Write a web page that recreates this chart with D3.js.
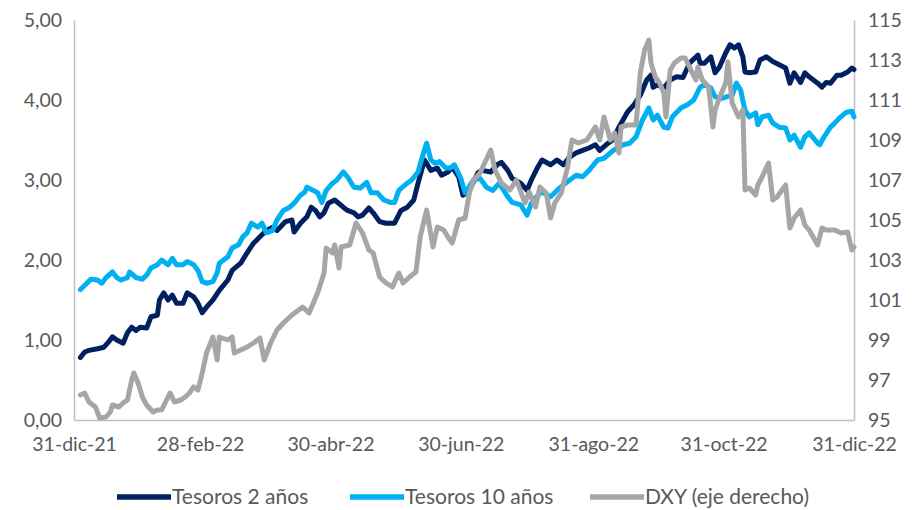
<!DOCTYPE html>
<html>
<head>
<meta charset="utf-8">
<script src="https://cdn.jsdelivr.net/npm/d3@7"></script>
<style>
  body { margin: 0; background: #fff; }
  svg text { font-family: Lato, "Open Sans", sans-serif; fill: #595959; }
</style>
</head>
<body>
<svg id="chart"></svg>
<script>
// dias desde 31-dic-21, valor
var tesoros2 = [[3,0.78],[5,0.85],[7,0.87],[11,0.89],[14,0.91],[16,0.97],[18,1.04],[20,1.0],[23,0.96],[25,1.09],
  [27,1.16],[29,1.12],[31,1.16],[34,1.15],[36,1.29],[39,1.31],[40,1.5],[42,1.59],[44,1.5],[46,1.56],
  [48,1.46],[51,1.46],[53,1.59],[56,1.54],[58,1.46],[60,1.34],[62,1.41],[65,1.5],[68,1.62],[72,1.75],
  [74,1.87],[78,1.96],[81,2.09],[84,2.21],[87,2.29],[90,2.37],[93,2.41],[95,2.37],[99,2.48],[102,2.5],
  [103,2.35],[106,2.46],[109,2.54],[111,2.66],[113,2.62],[115,2.54],[117,2.59],[119,2.71],[122,2.75],[126,2.66],
  [128,2.62],[131,2.59],[133,2.54],[135,2.56],[138,2.65],[140,2.59],[143,2.48],[146,2.46],[150,2.46],[153,2.62],
  [156,2.66],[159,2.75],[161,2.96],[164,3.25],[167,3.12],[170,3.15],[172,3.06],[175,3.1],[177,3.16],[180,3.04],
  [182,2.81],[185,2.87],[189,3.09],[191,3.12],[195,3.1],[198,3.19],[200,3.22],[203,3.12],[205,3.02],[209,2.96],
  [212,2.87],[214,3.0],[217,3.16],[219,3.25],[223,3.19],[226,3.25],[229,3.19],[232,3.29],[235,3.34],[238,3.37],
  [241,3.4],[244,3.44],[246,3.37],[249,3.44],[252,3.5],[255,3.66],[259,3.85],[262,3.94],[265,4.06],[268,4.25],
  [270,4.31],[271,4.16],[273,4.19],[276,4.15],[279,4.25],[282,4.29],[285,4.28],[288,4.46],[292,4.56],[293,4.46],
  [295,4.46],[298,4.54],[300,4.34],[302,4.41],[305,4.59],[307,4.69],[309,4.65],[311,4.69],[313,4.54],[314,4.35],
  [316,4.34],[319,4.35],[321,4.5],[324,4.54],[327,4.48],[330,4.44],[333,4.4],[335,4.21],[337,4.34],[340,4.22],
  [342,4.34],[344,4.29],[348,4.21],[350,4.16],[352,4.22],[354,4.21],[357,4.31],[359,4.31],[362,4.35],[364,4.4],[365,4.38]];

var tesoros10 = [[3,1.63],[6,1.71],[8,1.76],[11,1.75],[13,1.71],[15,1.78],[18,1.85],[20,1.78],[22,1.75],[25,1.78],
  [26,1.85],[29,1.78],[32,1.76],[34,1.81],[36,1.9],[39,1.94],[41,2.0],[44,1.94],[46,2.02],[48,1.94],
  [51,1.94],[53,1.98],[56,1.94],[58,1.87],[60,1.73],[62,1.71],[65,1.73],[67,1.84],[68,1.96],[72,2.04],
  [74,2.15],[77,2.19],[79,2.29],[81,2.34],[83,2.46],[86,2.41],[88,2.46],[90,2.34],[93,2.37],[95,2.5],
  [98,2.62],[101,2.66],[103,2.71],[106,2.81],[108,2.85],[109,2.91],[112,2.87],[114,2.84],[116,2.72],[118,2.87],
  [121,2.96],[123,3.0],[126,3.1],[128,3.04],[131,2.91],[134,2.9],[137,2.97],[139,2.84],[142,2.84],[145,2.75],
  [148,2.72],[150,2.72],[152,2.87],[155,2.94],[158,3.0],[161,3.1],[163,3.29],[165,3.46],[167,3.25],[169,3.21],
  [171,3.23],[174,3.15],[176,3.15],[178,3.19],[181,3.02],[183,2.84],[187,3.0],[190,3.02],[193,2.91],[196,2.87],
  [199,2.96],[203,2.79],[205,2.72],[209,2.69],[212,2.56],[214,2.71],[217,2.81],[219,2.85],[223,2.79],[226,2.87],
  [229,2.94],[232,3.0],[235,3.06],[238,3.04],[241,3.12],[245,3.25],[248,3.27],[251,3.34],[254,3.4],[257,3.44],
  [260,3.46],[263,3.54],[266,3.75],[269,3.9],[271,3.75],[273,3.81],[276,3.66],[278,3.65],[280,3.79],[284,3.9],
  [287,3.94],[290,4.0],[293,4.16],[295,4.19],[298,4.15],[300,4.04],[303,4.02],[308,4.06],[310,4.21],[312,4.12],
  [314,3.87],[316,3.79],[319,3.84],[320,3.69],[322,3.79],[325,3.81],[327,3.71],[330,3.66],[333,3.65],[335,3.5],
  [337,3.56],[340,3.41],[342,3.54],[344,3.59],[348,3.46],[349,3.44],[351,3.54],[354,3.66],[356,3.71],[358,3.77],
  [361,3.84],[362,3.85],[364,3.86],[365,3.79]];

var dxy = [[3,96.25],[5,96.35],[7,95.9],[10,95.65],[12,95.1],[15,95.15],[17,95.4],[18,95.75],[21,95.65],[23,95.85],
  [25,96.0],[27,97.0],[28,97.35],[30,96.85],[32,96.15],[34,95.75],[37,95.4],[39,95.5],[41,95.5],[44,96.15],
  [45,96.35],[47,95.9],[50,96.0],[52,96.15],[54,96.35],[56,96.65],[58,96.5],[60,97.35],[62,98.35],[65,99.15],
  [67,98.0],[68,99.15],[72,99.0],[74,99.15],[75,98.35],[78,98.5],[81,98.65],[84,98.85],[87,99.1],[89,98.0],
  [92,98.85],[95,99.5],[98,99.85],[102,100.25],[107,100.65],[110,100.35],[114,101.35],[117,102.35],[118,103.6],[121,103.35],
  [122,103.75],[124,102.6],[125,103.65],[129,103.75],[132,104.85],[135,104.35],[138,103.5],[140,103.35],[143,102.15],[146,101.85],
  [149,101.65],[152,102.35],[154,101.85],[157,102.15],[160,102.4],[162,104.15],[165,105.5],[168,103.65],[170,104.65],[173,104.5],
  [175,104.15],[177,103.85],[180,105.0],[183,105.1],[185,106.35],[187,107.0],[190,107.35],[195,108.5],[197,107.5],[200,106.85],
  [204,106.5],[207,107.0],[211,105.85],[213,106.4],[216,105.65],[218,106.65],[221,106.35],[223,105.1],[225,105.85],[228,106.35],
  [231,107.65],[233,109.0],[236,108.85],[240,109.0],[243,109.5],[244,109.65],[246,109.0],[248,110.15],[251,109.0],[253,109.35],
  [255,108.35],[256,109.65],[259,109.75],[263,109.75],[265,112.35],[267,113.5],[269,114.0],[270,112.85],[272,112.15],[274,111.85],
  [276,111.35],[277,110.15],[279,112.5],[281,112.85],[284,113.1],[286,113.1],[288,112.65],[291,112.0],[292,112.65],[294,112.0],
  [297,111.65],[299,109.65],[300,110.5],[302,111.1],[305,111.85],[306,112.9],[308,110.85],[311,110.15],[313,110.5],[314,106.5],
  [316,106.6],[319,106.25],[320,106.75],[322,107.15],[325,107.85],[327,106.0],[329,106.15],[333,106.75],[335,104.6],[337,105.1],
  [340,105.5],[342,104.75],[344,104.5],[348,103.75],[350,104.6],[352,104.5],[356,104.5],[359,104.35],[362,104.4],[364,103.5],[365,103.65]];

var tickFechas = ["2021-12-31", "2022-02-28", "2022-04-30", "2022-06-30", "2022-08-31", "2022-10-31", "2022-12-31"];
var tickLabels = ["31-dic-21", "28-feb-22", "30-abr-22", "30-jun-22", "31-ago-22", "31-oct-22", "31-dic-22"];
var leftTicks = [0, 1, 2, 3, 4, 5];
var rightTicks = [95, 97, 99, 101, 103, 105, 107, 109, 111, 113, 115];
var seriesNames = ["Tesoros 2 años", "Tesoros 10 años", "DXY (eje derecho)"];
var colors = ["#002060", "#00b0f0", "#a6a6a6"];

var svgWidth = 912, svgHeight = 510;
var margin = { top: 20, right: 58, bottom: 90, left: 74 };
var width = svgWidth - margin.left - margin.right;
var height = svgHeight - margin.top - margin.bottom;

var svg = d3.select("#chart")
  .attr("width", svgWidth)
  .attr("height", svgHeight);

var g = svg.append("g")
  .attr("transform", "translate(" + margin.left + "," + margin.top + ")");

var parse = d3.timeParse("%Y-%m-%d");
var start = parse("2021-12-31");
var toDate = function (d) { return d3.timeDay.offset(start, d); };

var x = d3.scaleTime().domain([start, parse("2022-12-31")]).range([0, width]);
var yL = d3.scaleLinear().domain([0, 5]).range([height, 0]);
var yR = d3.scaleLinear().domain([95, 115]).range([height, 0]);

var es = d3.formatLocale({ decimal: ",", thousands: ".", grouping: [3], currency: ["", "€"] });

// ejes
var axL = g.append("g")
  .call(d3.axisLeft(yL).tickValues(leftTicks).tickSize(0).tickPadding(12).tickFormat(es.format(".2f")));
var axR = g.append("g")
  .attr("transform", "translate(" + width + ",0)")
  .call(d3.axisRight(yR).tickValues(rightTicks).tickSize(0).tickPadding(14).tickFormat(d3.format("d")));
var axB = g.append("g")
  .attr("transform", "translate(0," + height + ")")
  .call(d3.axisBottom(x).tickValues(tickFechas.map(parse)).tickSize(0).tickPadding(17)
    .tickFormat(function (d, i) { return tickLabels[i]; }));

[axL, axR, axB].forEach(function (a) {
  a.select(".domain").attr("stroke", "#bfbfbf").attr("stroke-width", 1.5);
  a.selectAll("text").style("font-size", "19.5px").attr("fill", "#595959");
});

// lineas
var lineL = d3.line()
  .x(function (d) { return x(toDate(d[0])); })
  .y(function (d) { return yL(d[1]); });
var lineR = d3.line()
  .x(function (d) { return x(toDate(d[0])); })
  .y(function (d) { return yR(d[1]); });

[[tesoros2, lineL], [tesoros10, lineL], [dxy, lineR]].forEach(function (s, i) {
  g.append("path")
    .datum(s[0])
    .attr("fill", "none")
    .attr("stroke", colors[i])
    .attr("stroke-width", 5)
    .attr("stroke-linejoin", "round")
    .attr("stroke-linecap", "round")
    .attr("d", s[1]);
});

// leyenda
var legX = [117, 350, 590];
var leg = svg.append("g").attr("transform", "translate(0,497)");
seriesNames.forEach(function (name, i) {
  leg.append("line")
    .attr("x1", legX[i]).attr("x2", legX[i] + 54)
    .attr("y1", 0).attr("y2", 0)
    .attr("stroke", colors[i])
    .attr("stroke-width", 5.5);
  leg.append("text")
    .attr("x", legX[i] + 55)
    .attr("y", 0)
    .attr("dy", "0.35em")
    .style("font-size", "21px")
    .text(name);
});
</script>
</body>
</html>
